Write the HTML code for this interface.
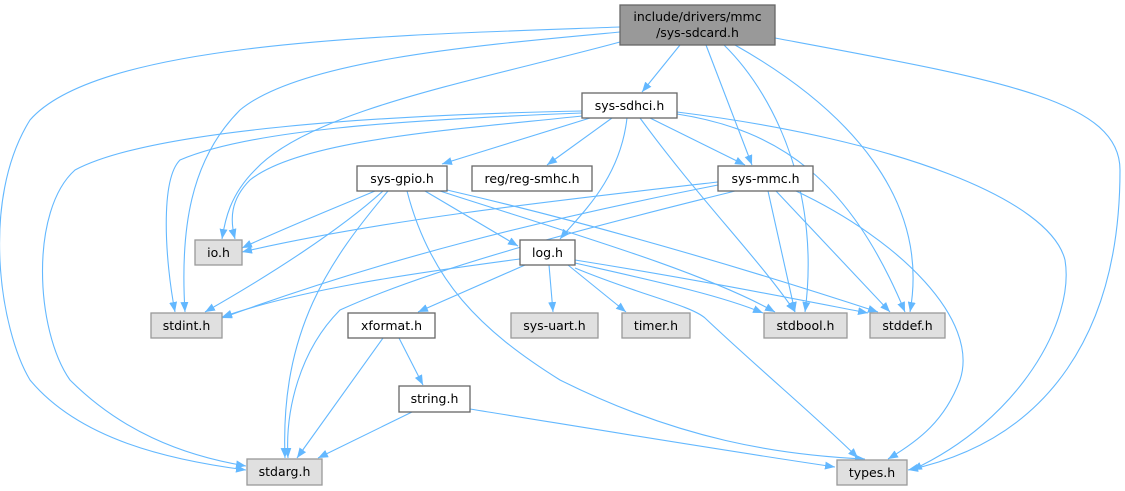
<!DOCTYPE html>
<html><head><meta charset="utf-8"><style>
html,body{margin:0;padding:0;background:#fff;}
svg{display:block;}
text{font-family:"DejaVu Sans","Liberation Sans",sans-serif;font-size:12.5px;fill:#000;}
.e{fill:none;stroke:#63b8ff;stroke-width:1.1;marker-end:url(#a);}
.n{fill:#fff;stroke:#666;stroke-width:1.3;}
.g{fill:#e0e0e0;stroke:#999;stroke-width:1.3;}
</style></head><body>
<svg width="1125" height="491" viewBox="0 0 1125 491" xmlns="http://www.w3.org/2000/svg">
<defs><marker id="a" viewBox="0 0 10 8" refX="10" refY="4" markerWidth="10" markerHeight="8" markerUnits="userSpaceOnUse" orient="auto"><path d="M0,0 L10,4 L0,8 z" fill="#63b8ff"/></marker></defs>
<!-- root edges -->
<path class="e" d="M680,45 L642,92"/>
<path class="e" d="M706,45 L752,165"/>
<path class="e" d="M724,45 C780,100 820,200 805,312"/>
<path class="e" d="M735,45 C850,110 930,200 910,312"/>
<path class="e" d="M775,38 C1000,80 1120,100 1120,170 C1120,330 1050,440 908,470"/>
<path class="e" d="M620,27 C400,35 100,40 30,120 C-20,200 0,330 30,380 C80,440 170,460 246,470"/>
<path class="e" d="M620,32 C480,45 300,60 240,110 C190,160 180,230 185,312"/>
<path class="e" d="M620,42 C480,80 310,110 255,170 C230,195 225,220 222,239"/>
<!-- sys-sdhci edges -->
<path class="e" d="M590,118 L442,164"/>
<path class="e" d="M612,118 L547,165"/>
<path class="e" d="M650,118 L745,165"/>
<path class="e" d="M627,118 C620,180 580,215 560,239"/>
<path class="e" d="M640,118 C700,200 760,260 795,312"/>
<path class="e" d="M677,114 C780,130 850,180 905,312"/>
<path class="e" d="M677,112 C900,140 1050,200 1065,260 C1075,320 1020,420 912,470"/>
<path class="e" d="M582,116 C450,130 300,140 250,180 C230,200 230,220 235,239"/>
<path class="e" d="M582,113 C400,120 250,130 180,160 C160,180 165,260 175,312"/>
<path class="e" d="M582,111 C380,115 150,130 75,170 C30,210 35,330 70,380 C120,430 180,455 246,466"/>
<!-- sys-gpio edges -->
<path class="e" d="M375,191 C330,210 280,230 242,248"/>
<path class="e" d="M383,191 C340,230 270,275 205,312"/>
<path class="e" d="M388,191 C330,260 280,330 285,458"/>
<path class="e" d="M425,191 L518,246"/>
<path class="e" d="M407,191 C430,280 480,330 560,380 C680,440 780,455 865,459"/>
<path class="e" d="M440,191 C560,230 700,270 775,312"/>
<path class="e" d="M447,190 C620,230 780,280 878,312"/>
<!-- sys-mmc edges -->
<path class="e" d="M718,182 C560,200 380,220 242,252"/>
<path class="e" d="M718,185 C540,220 380,260 222,318"/>
<path class="e" d="M735,191 C640,215 450,260 340,310 C300,350 285,410 288,458"/>
<path class="e" d="M768,191 L795,312"/>
<path class="e" d="M776,191 L890,312"/>
<path class="e" d="M796,191 C900,240 980,320 960,380 C945,420 920,440 888,459"/>
<!-- log.h edges -->
<path class="e" d="M520,259 C400,275 300,290 222,317"/>
<path class="e" d="M525,265 L418,312"/>
<path class="e" d="M549,265 L553,312"/>
<path class="e" d="M568,265 L626,312"/>
<path class="e" d="M575,263 C650,280 720,295 763,313"/>
<path class="e" d="M575,260 C700,280 800,300 868,313"/>
<path class="e" d="M575,268 C640,295 690,305 705,318 C760,370 820,420 858,458"/>
<!-- xformat/string -->
<path class="e" d="M383,338 L297,458"/>
<path class="e" d="M399,338 L423,385"/>
<path class="e" d="M412,412 L318,458"/>
<path class="e" d="M470,409 C600,430 720,450 835,467"/>
<!-- nodes -->
<rect x="620" y="5" width="155" height="40" fill="#999" stroke="#666" stroke-width="1.3"/>
<text x="697.5" y="21" text-anchor="middle">include/drivers/mmc</text>
<text x="697.5" y="37" text-anchor="middle">/sys-sdcard.h</text>
<rect class="n" x="582" y="93" width="95" height="25"/><text x="629.5" y="110" text-anchor="middle">sys-sdhci.h</text>
<rect class="n" x="357" y="166" width="90" height="25"/><text x="402" y="183" text-anchor="middle">sys-gpio.h</text>
<rect class="n" x="472" y="166" width="120" height="25"/><text x="532" y="183" text-anchor="middle">reg/reg-smhc.h</text>
<rect class="n" x="718" y="166" width="95" height="25"/><text x="765.5" y="183" text-anchor="middle">sys-mmc.h</text>
<rect class="g" x="195" y="240" width="47" height="25"/><text x="218.5" y="257" text-anchor="middle">io.h</text>
<rect class="n" x="520" y="240" width="55" height="25"/><text x="547.5" y="257" text-anchor="middle">log.h</text>
<rect class="g" x="151" y="313" width="71" height="25"/><text x="186.5" y="330" text-anchor="middle">stdint.h</text>
<rect class="n" x="348" y="313" width="87" height="25"/><text x="391.5" y="330" text-anchor="middle">xformat.h</text>
<rect class="g" x="511" y="313" width="87" height="25"/><text x="554.5" y="330" text-anchor="middle">sys-uart.h</text>
<rect class="g" x="622" y="313" width="68" height="25"/><text x="656" y="330" text-anchor="middle">timer.h</text>
<rect class="g" x="764" y="313" width="83" height="25"/><text x="805.5" y="330" text-anchor="middle">stdbool.h</text>
<rect class="g" x="870" y="313" width="75" height="25"/><text x="907.5" y="330" text-anchor="middle">stddef.h</text>
<rect class="n" x="399" y="386" width="71" height="26"/><text x="434.5" y="403" text-anchor="middle">string.h</text>
<rect class="g" x="247" y="459" width="75" height="26"/><text x="284.5" y="476" text-anchor="middle">stdarg.h</text>
<rect class="g" x="837" y="460" width="70" height="25"/><text x="872" y="477" text-anchor="middle">types.h</text>
</svg>
</body></html>
